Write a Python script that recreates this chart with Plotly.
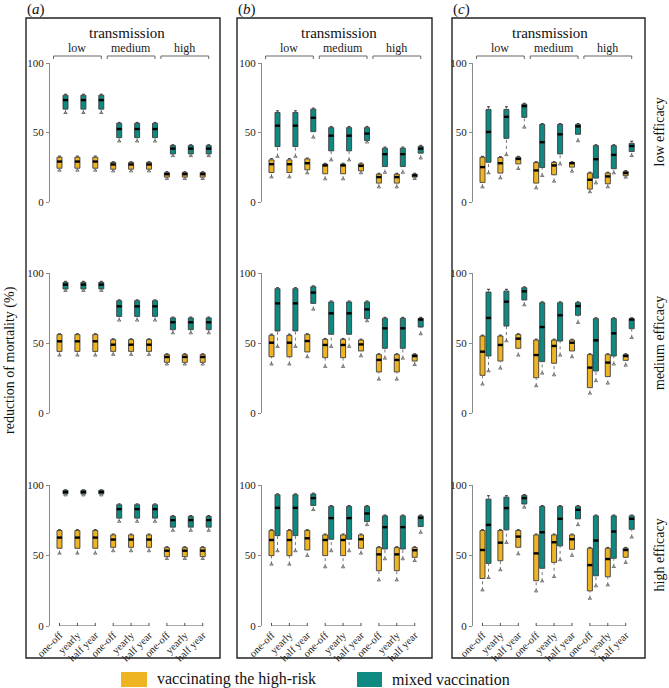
import plotly.graph_objects as go

W, H = 669, 688

# ---------------- data ----------------
STRATEGIES = ["one-off", "yearly", "half year"]
TRANSMISSION = ["low", "medium", "high"]
EFFICACY = ["low efficacy", "medium efficacy", "high efficacy"]
SCENARIOS = ["a", "b", "c"]
SERIES = ["vaccinating the high-risk", "mixed vaccination"]
Y_TICKS = [0, 50, 100]

# each row: [lower end (triangle), q1, median, q3, upper cap]
# order: low trans (one-off, yearly, half year), medium trans (...), high trans (...)
A1_HR = [[22.7, 24.3, 29.1, 32.2, 33.0], [22.7, 24.3, 29.1, 32.2, 33.0], [22.7, 24.3, 29.1, 32.2, 33.0],
         [22.2, 23.6, 27.0, 28.4, 29.0], [22.2, 23.6, 27.0, 28.4, 29.0], [22.2, 23.6, 27.0, 28.4, 29.0],
         [16.7, 17.9, 20.0, 21.2, 21.8], [16.7, 17.9, 20.0, 21.2, 21.8], [16.7, 17.9, 20.0, 21.2, 21.8]]
A1_MIX = [[64.2, 66.8, 73.3, 76.8, 77.5], [64.2, 66.8, 73.3, 76.8, 77.5], [64.2, 66.8, 73.3, 76.8, 77.5],
          [43.7, 46.3, 52.5, 56.6, 57.2], [43.7, 46.3, 52.5, 56.6, 57.2], [43.7, 46.3, 52.5, 56.6, 57.2],
          [33.2, 34.6, 38.4, 40.6, 41.2], [33.2, 34.6, 38.4, 40.6, 41.2], [33.2, 34.6, 38.4, 40.6, 41.2]]
A2_HR = [[41.2, 44.0, 51.2, 56.0, 56.6], [41.2, 44.0, 51.2, 56.0, 56.6], [41.2, 44.0, 51.2, 56.0, 56.6],
         [41.7, 44.0, 48.8, 52.4, 53.0], [41.7, 44.0, 48.8, 52.4, 53.0], [41.7, 44.0, 48.8, 52.4, 53.0],
         [34.8, 36.2, 40.0, 41.7, 42.3], [34.8, 36.2, 40.0, 41.7, 42.3], [34.8, 36.2, 40.0, 41.7, 42.3]]
A2_MIX = [[87.4, 88.6, 91.7, 93.3, 94.0], [87.4, 88.6, 91.7, 93.3, 94.0], [87.4, 88.6, 91.7, 93.3, 94.0],
          [66.2, 69.0, 76.2, 80.2, 80.8], [66.2, 69.0, 76.2, 80.2, 80.8], [66.2, 69.0, 76.2, 80.2, 80.8],
          [57.1, 59.5, 64.8, 67.9, 68.5], [57.1, 59.5, 64.8, 67.9, 68.5], [57.1, 59.5, 64.8, 67.9, 68.5]]
A3_HR = [[51.5, 55.1, 62.7, 67.7, 68.3], [51.5, 55.1, 62.7, 67.7, 68.3], [51.5, 55.1, 62.7, 67.7, 68.3],
         [53.2, 55.8, 61.3, 64.6, 65.2], [53.2, 55.8, 61.3, 64.6, 65.2], [53.2, 55.8, 61.3, 64.6, 65.2],
         [47.7, 49.2, 53.4, 55.6, 56.2], [47.7, 49.2, 53.4, 55.6, 56.2], [47.7, 49.2, 53.4, 55.6, 56.2]]
A3_MIX = [[92.8, 93.6, 95.0, 96.2, 96.6], [92.8, 93.6, 95.0, 96.2, 96.6], [92.8, 93.6, 95.0, 96.2, 96.6],
          [74.1, 76.5, 82.9, 86.0, 86.6], [74.1, 76.5, 82.9, 86.0, 86.6], [74.1, 76.5, 82.9, 86.0, 86.6],
          [67.7, 70.1, 75.1, 77.7, 78.3], [67.7, 70.1, 75.1, 77.7, 78.3], [67.7, 70.1, 75.1, 77.7, 78.3]]

B1_HR = [[17.9, 21.2, 27.2, 30.3, 31.2], [17.9, 21.2, 27.2, 30.3, 31.2], [20.8, 23.2, 27.9, 31.0, 31.6],
         [16.5, 20.3, 26.3, 27.2, 27.8], [16.5, 20.3, 26.3, 27.2, 27.8], [20.8, 22.4, 26.0, 27.4, 28.0],
         [10.7, 13.6, 17.9, 20.0, 20.6], [10.7, 13.6, 17.9, 20.0, 20.6], [16.7, 17.9, 19.1, 20.0, 20.6]]
B1_MIX = [[32.7, 39.9, 54.9, 64.4, 65.6], [32.7, 39.9, 54.9, 64.4, 65.6], [46.5, 50.6, 60.6, 66.8, 67.5],
          [30.1, 36.8, 47.7, 53.5, 54.3], [30.1, 36.8, 47.7, 53.5, 54.3], [43.0, 44.2, 49.2, 53.5, 54.3],
          [21.2, 25.5, 34.4, 38.7, 39.5], [21.2, 25.5, 34.4, 38.7, 39.5], [31.5, 35.1, 38.4, 39.9, 40.7]]
B2_HR = [[34.8, 40.2, 50.2, 55.5, 56.3], [34.8, 40.2, 50.2, 55.5, 56.3], [40.0, 43.6, 51.4, 56.0, 56.6],
         [33.1, 39.5, 48.6, 52.6, 53.2], [33.1, 39.5, 48.6, 52.6, 53.2], [40.7, 44.3, 49.0, 52.1, 52.7],
         [24.0, 29.3, 37.9, 41.7, 42.3], [24.0, 29.3, 37.9, 41.7, 42.3], [34.5, 37.1, 40.7, 41.7, 42.3]]
B2_MIX = [[47.4, 58.6, 78.3, 88.8, 89.5], [47.4, 58.6, 78.3, 88.8, 89.5], [74.0, 78.3, 86.0, 90.2, 90.8],
          [47.4, 56.2, 71.2, 79.3, 80.0], [47.4, 56.2, 71.2, 79.3, 80.0], [65.7, 67.4, 74.0, 79.3, 80.0],
          [39.0, 46.2, 60.5, 67.6, 68.3], [39.0, 46.2, 60.5, 67.6, 68.3], [56.4, 61.4, 66.7, 67.6, 68.3]]
B3_HR = [[43.7, 49.9, 61.0, 67.7, 68.3], [43.7, 49.9, 61.0, 67.7, 68.3], [49.9, 53.9, 62.2, 67.7, 68.3],
         [41.8, 49.9, 61.0, 64.6, 65.2], [41.8, 49.9, 61.0, 64.6, 65.2], [51.5, 55.1, 61.5, 64.6, 65.2],
         [32.5, 39.2, 50.8, 55.6, 56.2], [32.5, 39.2, 50.8, 55.6, 56.2], [46.3, 48.7, 53.7, 55.6, 56.2]]
B3_MIX = [[53.2, 64.1, 83.8, 93.1, 93.7], [53.2, 64.1, 83.8, 93.1, 93.7], [82.4, 85.5, 90.7, 93.6, 94.2],
          [53.2, 61.5, 76.5, 84.8, 85.4], [53.2, 61.5, 76.5, 84.8, 85.4], [71.7, 74.1, 79.8, 84.8, 85.4],
          [47.5, 54.6, 70.1, 78.1, 78.7], [47.5, 54.6, 70.1, 78.1, 78.7], [66.3, 70.5, 76.7, 78.1, 78.7]]

C1_HR = [[10.7, 14.1, 25.1, 32.2, 32.8], [17.2, 20.8, 27.9, 32.0, 32.6], [23.9, 27.4, 31.0, 32.2, 32.8],
         [10.0, 13.6, 22.7, 28.4, 29.0], [14.8, 19.6, 26.3, 28.4, 29.0], [22.0, 25.1, 27.9, 28.4, 29.0],
         [7.2, 9.3, 16.0, 20.8, 21.4], [10.7, 13.1, 18.4, 20.8, 21.4], [17.7, 18.9, 20.8, 22.0, 22.6]]
C1_MIX = [[20.8, 28.6, 50.4, 66.6, 68.5], [33.9, 45.8, 61.3, 66.6, 68.5], [53.7, 60.9, 69.0, 70.4, 71.0],
          [18.9, 24.8, 43.0, 55.8, 56.4], [27.2, 34.6, 48.7, 55.8, 56.4], [43.9, 48.7, 54.4, 55.8, 56.4],
          [13.6, 17.2, 30.8, 40.6, 41.2], [20.8, 23.9, 33.9, 40.6, 41.2], [33.2, 36.3, 40.3, 42.2, 43.7]]
C2_HR = [[20.5, 26.9, 43.8, 55.0, 55.6], [31.9, 37.1, 48.6, 55.0, 55.6], [41.2, 46.2, 53.1, 56.0, 56.6],
         [19.3, 25.2, 41.4, 52.1, 52.7], [27.1, 35.5, 47.9, 52.1, 52.7], [40.0, 44.3, 50.2, 52.1, 52.7],
         [14.0, 18.1, 32.4, 41.7, 42.3], [21.2, 26.0, 36.0, 41.7, 42.3], [34.0, 37.6, 40.7, 41.7, 42.3]]
C2_MIX = [[30.0, 40.7, 67.9, 86.4, 88.3], [51.4, 62.1, 79.5, 87.1, 88.3], [77.1, 80.7, 86.9, 89.5, 90.1],
          [28.3, 36.7, 61.4, 78.8, 79.4], [41.2, 51.4, 69.8, 78.8, 79.4], [64.5, 69.8, 76.4, 78.8, 79.4],
          [22.9, 30.0, 51.9, 67.4, 68.0], [34.8, 40.7, 56.9, 67.4, 68.0], [53.8, 60.2, 66.7, 67.4, 68.0]]
C3_HR = [[25.4, 33.7, 53.9, 67.7, 68.3], [39.7, 46.3, 59.1, 67.7, 68.3], [51.0, 55.8, 63.4, 67.7, 68.3],
         [24.7, 32.1, 51.5, 64.6, 65.2], [34.9, 45.1, 59.4, 64.6, 65.2], [49.9, 54.4, 61.5, 64.6, 65.2],
         [19.5, 24.9, 43.2, 55.1, 55.7], [29.0, 34.9, 47.5, 55.1, 55.7], [44.9, 48.7, 53.9, 55.1, 55.7]]
C3_MIX = [[34.2, 44.4, 71.7, 90.0, 92.4], [59.1, 68.2, 83.6, 91.4, 92.4], [84.1, 86.5, 90.7, 92.6, 93.2],
          [31.8, 40.9, 66.5, 84.8, 85.4], [46.8, 56.8, 76.0, 84.8, 85.4], [71.7, 76.0, 82.4, 84.8, 85.4],
          [28.3, 35.6, 60.6, 78.1, 78.7], [42.0, 48.0, 67.0, 78.1, 78.7], [62.9, 68.6, 76.0, 78.1, 78.7]]

PANEL_DATA = {
    (0, 0): (A1_HR, A1_MIX), (1, 0): (A2_HR, A2_MIX), (2, 0): (A3_HR, A3_MIX),
    (0, 1): (B1_HR, B1_MIX), (1, 1): (B2_HR, B2_MIX), (2, 1): (B3_HR, B3_MIX),
    (0, 2): (C1_HR, C1_MIX), (1, 2): (C2_HR, C2_MIX), (2, 2): (C3_HR, C3_MIX),
}

# ---------------- styling / layout (pixels) ----------------
COL_HR = "#EEB422"
COL_MIX = "#0E8A83"
OUTLINE = "#3c3c3c"
FONT = "Liberation Serif"

AXIS_X = [50, 262, 473]          # y-axis line x position per column
PLOT_W = 170                     # plotting width (px)
PX_UNIT = 17.9                   # px per strategy slot
K0 = 12.5                        # px from axis to first slot centre
ZERO_Y = [202, 413, 626]         # pixel y of value 0 per row
HUND_Y = [63, 273, 485]          # pixel y of value 100 per row
PANEL_X = [(26, 220), (237, 432), (452, 645)]
PANEL_TOP, PANEL_BOT = 18, 658
OFFSET = 0.168                   # half distance between paired boxes (slots)
BOX_W = 0.28
CAP_W = 0.16


def px_x(p):
    return p / W


def px_y(p):
    return 1 - p / H


fig = go.Figure()
shapes = []
annotations = []
layout_axes = {}

xr = [-K0 / PX_UNIT, (PLOT_W - K0) / PX_UNIT]

for (row, col), (hr, mix) in PANEL_DATA.items():
    n = row * 3 + col + 1
    xa = "x" if n == 1 else f"x{n}"
    ya = "y" if n == 1 else f"y{n}"
    xkey = "xaxis" if n == 1 else f"xaxis{n}"
    ykey = "yaxis" if n == 1 else f"yaxis{n}"

    for series, off, color in ((hr, -OFFSET, COL_HR), (mix, OFFSET, COL_MIX)):
        pos = [k + off for k in range(len(series))]
        lo = [s[0] for s in series]
        q1 = [s[1] for s in series]
        med = [s[2] for s in series]
        q3 = [s[3] for s in series]
        hi = [s[4] for s in series]

        # whiskers (dotted)
        wx, wy = [], []
        for p, a, b, c, d in zip(pos, lo, q1, q3, hi):
            wx += [p, p, None, p, p, None]
            wy += [a, b, None, c, d, None]
        fig.add_trace(go.Scatter(x=wx, y=wy, mode="lines", xaxis=xa, yaxis=ya,
                                 line=dict(color="#777777", width=1, dash="dot"),
                                 showlegend=False, hoverinfo="skip"))
        # boxes
        fig.add_trace(go.Bar(x=pos, y=[c - b for b, c in zip(q1, q3)], base=q1,
                             width=BOX_W, xaxis=xa, yaxis=ya,
                             marker=dict(color=color, line=dict(color=OUTLINE, width=0.9)),
                             showlegend=False))
        # medians
        mx, my = [], []
        for p, m in zip(pos, med):
            mx += [p - BOX_W / 2, p + BOX_W / 2, None]
            my += [m, m, None]
        fig.add_trace(go.Scatter(x=mx, y=my, mode="lines", xaxis=xa, yaxis=ya,
                                 line=dict(color="black", width=2.4),
                                 showlegend=False, hoverinfo="skip"))
        # upper caps
        cx, cy = [], []
        for p, d in zip(pos, hi):
            cx += [p - CAP_W / 2, p + CAP_W / 2, None]
            cy += [d, d, None]
        fig.add_trace(go.Scatter(x=cx, y=cy, mode="lines", xaxis=xa, yaxis=ya,
                                 line=dict(color="#444444", width=1.2),
                                 showlegend=False, hoverinfo="skip"))
        # lower points (triangles)
        fig.add_trace(go.Scatter(x=pos, y=lo, mode="markers", xaxis=xa, yaxis=ya,
                                 marker=dict(symbol="triangle-up-open", size=3,
                                             color="#555555", line=dict(width=0.8)),
                                 cliponaxis=False, showlegend=False, hoverinfo="skip"))

    bottom = row == 2
    labels_pos = [g * 3 + j - OFFSET for g in range(3) for j in range(3)]
    layout_axes[xkey] = dict(
        domain=[px_x(AXIS_X[col]), px_x(AXIS_X[col] + PLOT_W)], range=xr,
        anchor=ya, showgrid=False, zeroline=False, showline=False, ticks="",
        showticklabels=bottom, tickvals=labels_pos, automargin=False,
        ticktext=[s for _ in TRANSMISSION for s in STRATEGIES],
        tickangle=-45, tickfont=dict(family=FONT, size=10.5, color="#222"),
    )
    layout_axes[ykey] = dict(
        domain=[px_y(ZERO_Y[row]), px_y(HUND_Y[row])], range=[0, 100],
        anchor=xa, showgrid=False, zeroline=False, showline=True, automargin=False,
        linecolor="#8a8a8a", linewidth=1, ticks="outside", ticklen=3,
        tickcolor="#8a8a8a", tickvals=Y_TICKS,
        tickfont=dict(family=FONT, size=11, color="#222"),
    )

    # bottom brackets under x labels
    if bottom:
        for g in range(3):
            x0 = g * 3 - OFFSET
            x1 = g * 3 + 2 - OFFSET
            shapes.append(dict(type="line", xref=xa, yref=ya, x0=x0, x1=x1, y0=0, y1=0,
                               line=dict(color="#555", width=1)))
            for j in range(3):
                shapes.append(dict(type="line", xref=xa, yref=ya, x0=x0 + j, x1=x0 + j,
                                   y0=0, y1=2.2, line=dict(color="#555", width=1)))

    # top header
    if row == 0:
        by = px_y(56)
        tick = 3 / H
        for g, name in enumerate(TRANSMISSION):
            x0 = g * 3 - 0.5
            x1 = g * 3 + 2 + OFFSET
            shapes.append(dict(type="line", xref=xa, yref="paper", x0=x0, x1=x1, y0=by, y1=by,
                               line=dict(color="#666", width=1)))
            for xx in (x0, x1):
                shapes.append(dict(type="line", xref=xa, yref="paper", x0=xx, x1=xx,
                                   y0=by, y1=by - tick, line=dict(color="#666", width=1)))
            annotations.append(dict(x=(x0 + x1) / 2, y=px_y(48), xref=xa, yref="paper",
                                    text=name, showarrow=False, xanchor="center",
                                    yanchor="middle",
                                    font=dict(family=FONT, size=12, color="#222")))
        annotations.append(dict(x=px_x(AXIS_X[col] + 77), y=px_y(33), xref="paper", yref="paper",
                                text="transmission", showarrow=False, xanchor="center",
                                yanchor="middle",
                                font=dict(family=FONT, size=15, color="#111")))

# panel borders and letters
for col, (xl, xrr) in enumerate(PANEL_X):
    shapes.append(dict(type="rect", xref="paper", yref="paper",
                       x0=px_x(xl), x1=px_x(xrr), y0=px_y(PANEL_BOT), y1=px_y(PANEL_TOP),
                       line=dict(color="#222", width=1.4)))
    annotations.append(dict(x=px_x(xl - 1), y=px_y(9), xref="paper", yref="paper",
                            text=f"(<i>{SCENARIOS[col]}</i>)", showarrow=False,
                            xanchor="left", yanchor="middle",
                            font=dict(family=FONT, size=15, color="#111")))

# right-side row labels
for row, name in enumerate(EFFICACY):
    annotations.append(dict(x=px_x(659), y=px_y((ZERO_Y[row] + HUND_Y[row]) / 2),
                            xref="paper", yref="paper", text=name, showarrow=False,
                            textangle=-90, xanchor="center", yanchor="middle",
                            font=dict(family=FONT, size=14, color="#111")))

# left y title
annotations.append(dict(x=px_x(10), y=px_y(360), xref="paper", yref="paper",
                        text="reduction of mortality (%)", showarrow=False, textangle=-90,
                        xanchor="center", yanchor="middle",
                        font=dict(family=FONT, size=14, color="#111")))

# legend
for (x0, x1, tx), color, name in (((121, 147, 155), COL_HR, SERIES[0]),
                                  ((357, 382, 390), COL_MIX, SERIES[1])):
    shapes.append(dict(type="rect", xref="paper", yref="paper",
                       x0=px_x(x0), x1=px_x(x1), y0=px_y(687), y1=px_y(672),
                       fillcolor=color, line=dict(color=color, width=0)))
    annotations.append(dict(x=px_x(tx), y=px_y(679), xref="paper", yref="paper",
                            text=name, showarrow=False, xanchor="left", yanchor="middle",
                            font=dict(family=FONT, size=16, color="#111")))

fig.update_layout(
    width=W, height=H, margin=dict(l=0, r=0, t=0, b=0, autoexpand=False),
    paper_bgcolor="white", plot_bgcolor="rgba(0,0,0,0)",
    barmode="overlay", showlegend=False,
    shapes=shapes, annotations=annotations,
    **layout_axes,
)

fig.write_html(
    "out.html",
    config={"displayModeBar": False},
    post_script="document.body.style.margin='0px';document.body.style.padding='0px';"
                "document.body.style.overflow='hidden';",
)
